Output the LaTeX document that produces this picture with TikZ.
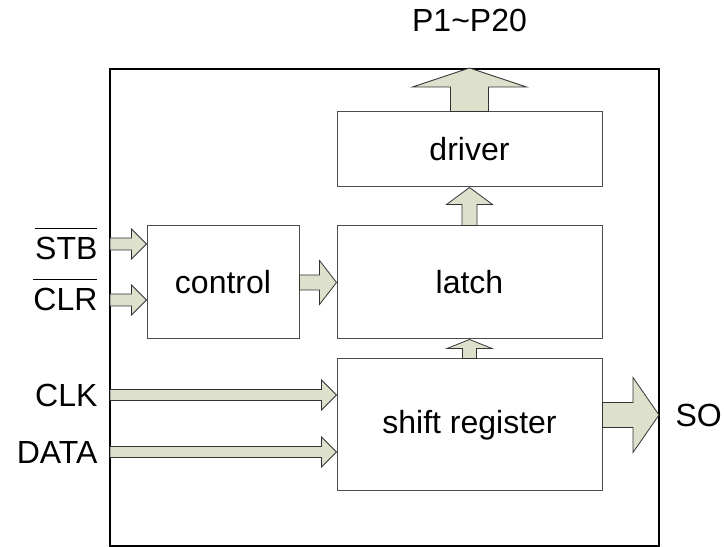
\documentclass[tikz,border=0pt]{standalone}
\usepackage{fontspec}
\setmainfont{Liberation Sans}
\usetikzlibrary{positioning, calc}
\definecolor{busfill}{RGB}{221,224,203}
\tikzstyle{chip} = [rectangle, draw=black, line width=2pt, minimum width=549pt, minimum height=477pt]
\tikzstyle{block} = [rectangle, draw=black!70, line width=1pt, minimum width=265pt, text centered]
\tikzstyle{bus} = [draw=black!80, line width=0.8pt, fill=busfill, line join=miter]
\newcommand{\lowact}[1]{\setbox0\hbox{#1}\rlap{\raisebox{0.95em}{\rule{\wd0}{1.5pt}}}\box0}
% from, to, half shaft, half head, head length
\newcommand{\busarrow}[5]{%
  \coordinate (neck) at ($(#2)!#5pt!(#1)$);
  \draw[bus] ($(#1)!#3pt!90:(#2)$) -- ($(neck)!#3pt!90:(#2)$) -- ($(neck)!#4pt!90:(#2)$) -- (#2)
    -- ($(neck)!#4pt!-90:(#2)$) -- ($(neck)!#3pt!-90:(#2)$) -- ($(#1)!#3pt!-90:(#2)$) -- cycle;
}

\begin{document}
\begin{tikzpicture}[x=1pt, y=1pt, every node/.style={font=\fontsize{32}{38}\selectfont}]
    \useasboundingbox (0,0) rectangle (724,547);

    % Blocchi
    \node (chip) [chip] at (384.5,239.5) {};
    \node (driver) [block, minimum height=75pt] at (469.5,397.5) {driver};
    \node (latch) [block, minimum height=113pt, below=38pt of driver] {latch};
    \node (shift) [block, minimum height=132pt, below=19pt of latch] {shift register};
    \node (control) [block, minimum width=152pt, minimum height=113pt, left=37pt of latch] {control};

    % Punti sul bordo
    \coordinate (stbin) at (110,303);
    \coordinate (clrin) at (110,247);
    \coordinate (clkin) at (110,152);
    \coordinate (datain) at (110,95);
    \coordinate (stbtip) at (control.west |- stbin);
    \coordinate (clrtip) at (control.west |- clrin);
    \coordinate (clktip) at (shift.west |- clkin);
    \coordinate (datatip) at (shift.west |- datain);
    \coordinate (pout) at (driver.north |- chip.north);
    \coordinate (soout) at (659,132);
    \coordinate (soin) at (shift.east |- soout);

    % Frecce
    \busarrow{stbin}{stbtip}{6}{15}{15}
    \busarrow{clrin}{clrtip}{6}{15}{15}
    \busarrow{clkin}{clktip}{5.5}{15}{15}
    \busarrow{datain}{datatip}{5.5}{15}{15}
    \busarrow{control.east}{latch.west}{7.5}{22}{17}
    \busarrow{shift.north}{latch.south}{7}{22.5}{9}
    \busarrow{latch.north}{driver.south}{7.5}{23}{17}
    \busarrow{driver.north}{pout}{19}{57}{19}
    \busarrow{soin}{soout}{12.5}{37.5}{26}

    % Etichette
    \node (stblabel) [left=9pt of stbin] {\lowact{STB}};
    \node (clrlabel) [left=9pt of clrin, yshift=5pt] {\lowact{CLR}};
    \node (clklabel) [left=9pt of clkin] {CLK};
    \node (datalabel) [left=9pt of datain] {DATA};
    \node (solabel) [right=13pt of soout] {SO};
    \node (plabel) [above=33pt of pout] {P1\textasciitilde P20};

\end{tikzpicture}
\end{document}
